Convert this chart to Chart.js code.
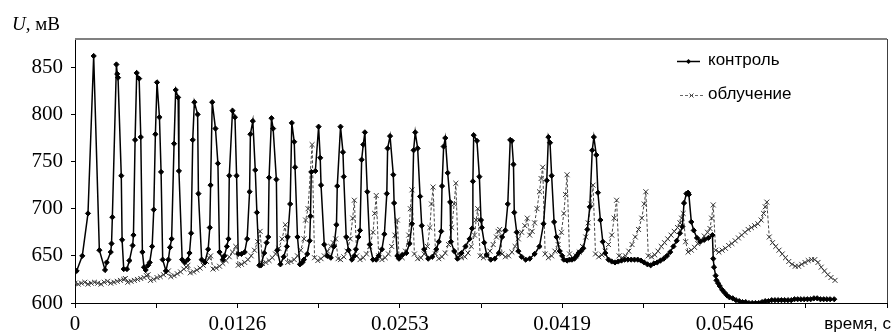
<!DOCTYPE html>
<html>
<head>
<meta charset="utf-8">
<script src="https://cdn.jsdelivr.net/npm/chart.js@4.4.1/dist/chart.umd.min.js"></script>
<style>
  html, body { margin: 0; padding: 0; background: #fff; }
</style>
</head>
<body>
<canvas id="chart" width="894" height="336"></canvas>
<script>
// ===== U(t) chart: контроль vs облучение =====

const seriesNames = ["контроль", "облучение"];

// x position along the category axis (0..1000), tick every 100
const xTickLabels = ["0", "", "0.0126", "", "0.0253", "", "0.0419", "", "0.0546", "", ""];

const ctrlX = [
  2, 9, 16, 23, 30, 37, 39, 44, 45, 46,
  51, 52, 53, 57, 58, 60, 64, 67, 71, 72,
  74, 76, 79, 81, 83, 85, 87, 90, 92, 95,
  97, 99, 101, 104, 106, 108, 112, 115, 117, 119,
  122, 124, 127, 128, 132, 135, 139, 141, 143, 145,
  147, 151, 152, 156, 160, 164, 166, 167, 169, 173,
  176, 178, 182, 184, 187, 189, 190, 194, 197, 199,
  201, 205, 209, 212, 215, 216, 219, 222, 224, 227,
  229, 233, 236, 238, 239, 242, 244, 248, 249, 253,
  257, 261, 262, 265, 267, 270, 271, 274, 277, 280,
  282, 286, 289, 290, 291, 296, 300, 302, 303, 307,
  311, 315, 319, 322, 323, 327, 330, 331, 334, 337,
  341, 344, 346, 349, 351, 353, 355, 357, 360, 363,
  367, 371, 374, 378, 381, 384, 385, 388, 392, 393,
  397, 399, 403, 408, 412, 415, 417, 419, 422, 425,
  427, 430, 435, 440, 445, 448, 451, 452, 454, 456,
  459, 462, 463, 467, 471, 476, 481, 486, 489, 490,
  491, 495, 498, 500, 501, 504, 507, 512, 517, 522,
  526, 530, 533, 536, 538, 540, 541, 544, 546, 550,
  555, 560, 566, 572, 577, 581, 583, 585, 587, 590,
  593, 597, 600, 602, 606, 609, 612, 615, 618, 620,
  623, 626, 631, 634, 637, 639, 642, 644, 647, 650,
  653, 657, 661, 665, 669, 673, 677, 681, 685, 689,
  693, 697, 701, 705, 709, 713, 717, 721, 725, 729,
  733, 737, 741, 745, 748, 750, 753, 755, 756, 759,
  762, 766, 770, 775, 780, 785, 786, 787, 789, 790,
  792, 794, 797, 800, 803, 806, 810, 814, 818, 822,
  826, 830, 834, 838, 842, 846, 850, 854, 858, 862,
  866, 870, 874, 878, 882, 886, 890, 894, 898, 902,
  906, 910, 914, 918, 922, 926, 930, 935
];
const ctrlY = [
  634, 650, 695, 862, 656, 635, 643, 654, 663, 691,
  853, 843, 839, 735, 667, 636, 636, 645, 661, 672,
  773, 844, 838, 776, 654, 638, 635, 640, 643, 660,
  699, 779, 834, 797, 739, 646, 634, 646, 659, 668,
  769, 826, 818, 740, 646, 643, 646, 653, 674, 773,
  813, 800, 716, 646, 643, 657, 680, 725, 813, 785,
  748, 654, 646, 650, 660, 668, 735, 804, 797, 735,
  652, 652, 654, 668, 718, 779, 793, 741, 696, 640,
  640, 653, 664, 670, 733, 796, 785, 731, 656, 641,
  649, 660, 670, 705, 791, 771, 744, 670, 641, 643,
  646, 652, 666, 692, 739, 740, 787, 754, 725, 662,
  650, 648, 660, 683, 724, 787, 760, 734, 670, 656,
  646, 650, 657, 670, 677, 752, 768, 781, 718, 662,
  646, 646, 650, 657, 673, 716, 764, 777, 736, 706,
  650, 647, 651, 653, 663, 684, 762, 781, 764, 713,
  682, 657, 647, 649, 657, 665, 676, 724, 766, 775,
  738, 707, 665, 655, 647, 653, 660, 668, 679, 729,
  778, 772, 734, 688, 680, 664, 651, 646, 647, 653,
  670, 677, 705, 773, 772, 747, 696, 675, 655, 649,
  646, 647, 652, 660, 684, 730, 776, 770, 735, 686,
  670, 655, 650, 646, 645, 646, 646, 647, 650, 653,
  655, 658, 678, 702, 762, 776, 757, 717, 688, 665,
  653, 646, 644, 643, 644, 645, 646, 646, 646, 646,
  646, 645, 643, 641, 640, 642, 643, 645, 647, 650,
  654, 660, 666, 674, 681, 706, 716, 717, 715, 686,
  677, 669, 665, 667, 669, 672, 647, 638, 629, 624,
  621, 618, 614, 611, 608, 606, 605, 603, 602, 601,
  601, 600, 600, 600, 600, 601, 602, 602, 603, 603,
  603, 603, 603, 603, 603, 604, 604, 604, 604, 604,
  604, 605, 605, 604, 604, 604, 604, 604
];

const irrX = [
  0, 4, 8, 12, 16, 20, 24, 28, 32, 36,
  40, 44, 48, 52, 56, 60, 62, 65, 69, 73,
  77, 81, 85, 88, 90, 93, 97, 101, 105, 109,
  112, 115, 118, 122, 126, 130, 134, 137, 139, 142,
  146, 150, 154, 158, 162, 165, 167, 170, 174, 178,
  182, 186, 190, 194, 198, 201, 205, 209, 213, 217,
  221, 225, 228, 231, 235, 239, 243, 247, 251, 255,
  259, 262, 266, 270, 274, 278, 282, 284, 287, 292,
  295, 299, 303, 307, 311, 315, 318, 321, 324, 327,
  331, 335, 339, 342, 344, 347, 351, 355, 359, 363,
  367, 369, 371, 374, 378, 382, 386, 390, 394, 397,
  399, 403, 407, 411, 413, 415, 418, 422, 426, 430,
  434, 437, 439, 441, 444, 448, 452, 456, 460, 464,
  467, 469, 472, 476, 480, 484, 488, 492, 494, 496,
  499, 503, 507, 511, 515, 519, 521, 523, 526, 530,
  534, 538, 542, 546, 550, 554, 557, 560, 563, 566,
  569, 572, 574, 576, 579, 583, 587, 591, 595, 599,
  602, 604, 606, 609, 613, 617, 621, 625, 629, 632,
  635, 638, 641, 645, 649, 653, 657, 661, 664, 667,
  670, 674, 678, 682, 686, 690, 694, 698, 701, 703,
  706, 710, 714, 718, 722, 726, 730, 734, 738, 742,
  745, 747, 749, 752, 755, 759, 763, 767, 771, 775,
  779, 782, 784, 786, 789, 793, 797, 801, 805, 809,
  813, 817, 821, 825, 829, 833, 837, 841, 845, 848,
  850, 852, 855, 859, 863, 867, 871, 875, 879, 883,
  887, 891, 895, 899, 903, 907, 911, 915, 919, 923,
  927, 931, 936
];
const irrY = [
  621, 620, 621, 622, 620, 621, 622, 621, 620, 622,
  623, 621, 622, 623, 624, 625, 626, 622, 623, 624,
  625, 626, 627, 629, 630, 624, 625, 627, 628, 630,
  632, 634, 628, 629, 631, 633, 636, 638, 640, 632,
  633, 635, 637, 640, 644, 648, 650, 636, 637, 639,
  642, 645, 649, 654, 660, 640, 641, 643, 646, 650,
  656, 665, 676, 642, 643, 645, 648, 652, 658, 668,
  683, 643, 644, 646, 650, 656, 668, 688, 700, 768,
  648, 645, 647, 650, 655, 660, 664, 668, 647, 646,
  649, 655, 668, 690, 709, 650, 646, 648, 652, 660,
  675, 695, 714, 650, 646, 648, 652, 660, 672, 688,
  650, 648, 655, 672, 700, 720, 652, 647, 648, 652,
  660, 680, 705, 723, 652, 647, 649, 653, 662, 680,
  705, 727, 652, 648, 649, 653, 660, 672, 688, 700,
  650, 648, 650, 655, 662, 670, 676, 678, 652, 649,
  650, 654, 660, 668, 675, 682, 690, 672, 676, 685,
  700, 718, 732, 744, 652, 648, 650, 655, 662, 675,
  695, 715, 736, 652, 648, 650, 654, 660, 670, 685,
  705, 725, 652, 649, 651, 655, 662, 672, 690, 709,
  650, 648, 650, 655, 662, 670, 678, 690, 705, 718,
  650, 649, 651, 655, 660, 664, 668, 672, 676, 680,
  685, 690, 695, 665, 654, 656, 659, 663, 667, 671,
  675, 679, 690, 704, 656, 654, 656, 658, 661, 663,
  666, 669, 672, 675, 678, 680, 682, 684, 688, 695,
  702, 707, 670, 664, 660, 656, 652, 648, 644, 641,
  639, 639, 641, 643, 645, 646, 646, 643, 638, 634,
  630, 627, 624
];

const yMin = 600;
const yMax = 880;
const yStep = 50;

// frame, axis captions and legend inside the plot
const decor = {
  id: "decor",
  afterDraw(chart) {
    const ctx = chart.ctx;
    const a = chart.chartArea;
    ctx.save();

    ctx.strokeStyle = "#808080";
    ctx.lineWidth = 2;
    ctx.beginPath();
    ctx.moveTo(a.left, a.top);
    ctx.lineTo(a.right, a.top);
    ctx.stroke();
    ctx.strokeStyle = "#404040";
    ctx.lineWidth = 1;
    ctx.beginPath();
    ctx.moveTo(a.right + 0.5, a.top);
    ctx.lineTo(a.right + 0.5, a.bottom);
    ctx.stroke();

    ctx.fillStyle = "#000";
    ctx.textBaseline = "alphabetic";
    ctx.font = 'italic 19px "Liberation Serif"';
    ctx.fillText("U", 12, 30);
    const uw = ctx.measureText("U").width;
    ctx.font = '19px "Liberation Serif"';
    ctx.fillText(", мВ", 12 + uw, 30);

    ctx.font = '17px "Liberation Sans"';
    ctx.textAlign = "right";
    ctx.fillText("время, с", 891, 329);

    // legend
    ctx.textAlign = "left";
    ctx.textBaseline = "middle";
    ctx.font = '17px "Liberation Sans"';

    ctx.strokeStyle = "#000";
    ctx.lineWidth = 1.5;
    ctx.beginPath();
    ctx.moveTo(677, 61.5);
    ctx.lineTo(700, 61.5);
    ctx.stroke();
    ctx.fillStyle = "#000";
    ctx.beginPath();
    ctx.moveTo(688.5, 59);
    ctx.lineTo(691, 61.5);
    ctx.lineTo(688.5, 64);
    ctx.lineTo(686, 61.5);
    ctx.closePath();
    ctx.fill();
    ctx.fillText(seriesNames[0], 708, 60);

    ctx.lineWidth = 1;
    ctx.strokeStyle = "#666";
    ctx.setLineDash([3, 2]);
    ctx.beginPath();
    ctx.moveTo(680, 95.5);
    ctx.lineTo(703, 95.5);
    ctx.stroke();
    ctx.setLineDash([]);
    ctx.strokeStyle = "#444";
    ctx.beginPath();
    ctx.moveTo(689.5, 93.5);
    ctx.lineTo(693.5, 97.5);
    ctx.moveTo(693.5, 93.5);
    ctx.lineTo(689.5, 97.5);
    ctx.stroke();
    ctx.fillText(seriesNames[1], 708, 94);

    ctx.restore();
  },
};

const ctx = document.getElementById("chart").getContext("2d");
new Chart(ctx, {
  type: "line",
  data: {
    datasets: [
      {
        label: seriesNames[0],
        data: ctrlX.map((x, i) => ({ x: x, y: ctrlY[i] })),
        borderColor: "#000",
        borderWidth: 1.5,
        pointStyle: "rectRot",
        pointRadius: 2.6,
        pointBackgroundColor: "#000",
        pointBorderColor: "#000",
        pointBorderWidth: 1,
        tension: 0,
        order: 0,
      },
      {
        label: seriesNames[1],
        data: irrX.map((x, i) => ({ x: x, y: irrY[i] })),
        borderColor: "#444",
        borderWidth: 1,
        borderDash: [3, 2],
        pointStyle: "crossRot",
        pointRadius: 3.5,
        pointBorderColor: "#333",
        pointBorderWidth: 1,
        tension: 0,
        order: 1,
      },
    ],
  },
  options: {
    responsive: false,
    animation: false,
    layout: { padding: { top: 39, right: 7, left: 0, bottom: 0 } },
    plugins: {
      legend: { display: false },
      tooltip: { enabled: false },
    },
    scales: {
      x: {
        type: "linear",
        min: 0,
        max: 1000,
        afterFit: (s) => { s.height = 33; },
        ticks: {
          stepSize: 100,
          autoSkip: false,
          maxRotation: 0,
          padding: 4,
          color: "#000",
          font: { family: "Liberation Serif", size: 21 },
          callback: (v, i) => xTickLabels[i] || "",
        },
        grid: { drawOnChartArea: false, drawTicks: true, tickLength: 5, color: "#000" },
        border: { color: "#000", width: 1 },
      },
      y: {
        min: yMin,
        max: yMax,
        afterFit: (s) => { s.width = 75; },
        ticks: {
          stepSize: yStep,
          includeBounds: false,
          padding: 8,
          color: "#000",
          font: { family: "Liberation Serif", size: 21 },
        },
        grid: { drawOnChartArea: false, drawTicks: true, tickLength: 4, color: "#000" },
        border: { color: "#000", width: 1 },
      },
    },
  },
  plugins: [decor],
});
</script>
</body>
</html>
